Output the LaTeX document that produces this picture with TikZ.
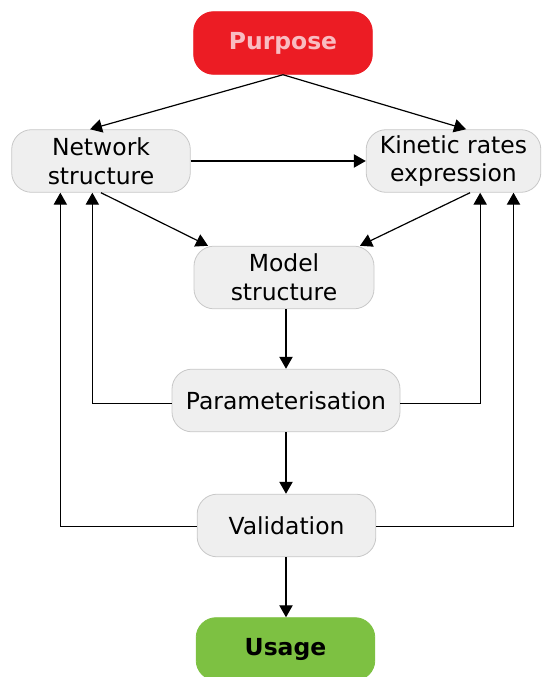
\documentclass[tikz,border=0pt]{standalone}
\usepackage{fontspec}
\setmainfont{DejaVu Sans}
\usetikzlibrary{positioning, arrows.meta}
\definecolor{purpRed}{HTML}{EC1C24}
\definecolor{purpPink}{HTML}{F9BCC1}
\definecolor{useGreen}{HTML}{7DC142}
\definecolor{boxGrey}{HTML}{EFEFEF}
\definecolor{boxLine}{HTML}{C8C8C8}

\begin{document}
\begin{tikzpicture}[x=0.75pt, y=-0.75pt, font=\fontsize{17.6}{21.5}\selectfont,
	box/.style={rounded corners=15pt, fill=boxGrey, draw=boxLine, line width=0.6pt,
		align=center, minimum height=47pt, inner sep=0pt},
	endbox/.style={box, font=\fontsize{17.6}{21.5}\selectfont\bfseries},
	arr/.style={line width=0.9pt, -{Triangle[length=9pt,width=10pt]}}]
	\useasboundingbox (0,0) rectangle (542,677);
	% boxes
	\node[endbox, fill=purpRed, draw=purpRed, text=purpPink, minimum width=134pt] (purp) at (283,43) {Purpose};
	\node[box, minimum width=134pt] (net) at (101,161) {Network\\structure};
	\node[box, minimum width=131pt] (kin) at (453.5,161) {Kinetic rates\\expression};
	\node[box, minimum width=135pt] (mod) at (284,277.5) {Model\\structure};
	\node[box, minimum width=171pt] (par) at (286,400.5) {Parameterisation};
	\node[box, minimum width=134pt] (val) at (286.5,525.5) {Validation};
	\node[endbox, fill=useGreen, draw=useGreen, minimum width=134pt] (use) at (285.5,649) {Usage};
	% main flow
	\draw[arr] (purp.south) -- ([xshift=-8.25pt]net.north);
	\draw[arr] (purp.south) -- ([xshift=9.4pt]kin.north);
	\draw[arr] (net.east) -- (kin.west);
	\draw[arr] (net.south) -- ([xshift=-57pt]mod.north);
	\draw[arr] ([xshift=12.4pt]kin.south) -- ([xshift=57pt]mod.north);
	\draw[arr] (par.north |- mod.south) -- (par.north);
	\draw[arr] (par.south) -- (par.south |- val.north);
	\draw[arr] (par.south |- val.south) -- (par.south |- use.north);
	% feedback loops
	\draw[arr] ([yshift=-2pt]par.west) -| ([xshift=-6.5pt]net.south);
	\draw[arr] ([yshift=-2pt]par.east) -| ([xshift=20pt]kin.south);
	\draw[arr] ([yshift=-1pt]val.west) -| ([xshift=-30.5pt]net.south);
	\draw[arr] ([yshift=-1pt]val.east) -| ([xshift=45pt]kin.south);
\end{tikzpicture}
\end{document}
